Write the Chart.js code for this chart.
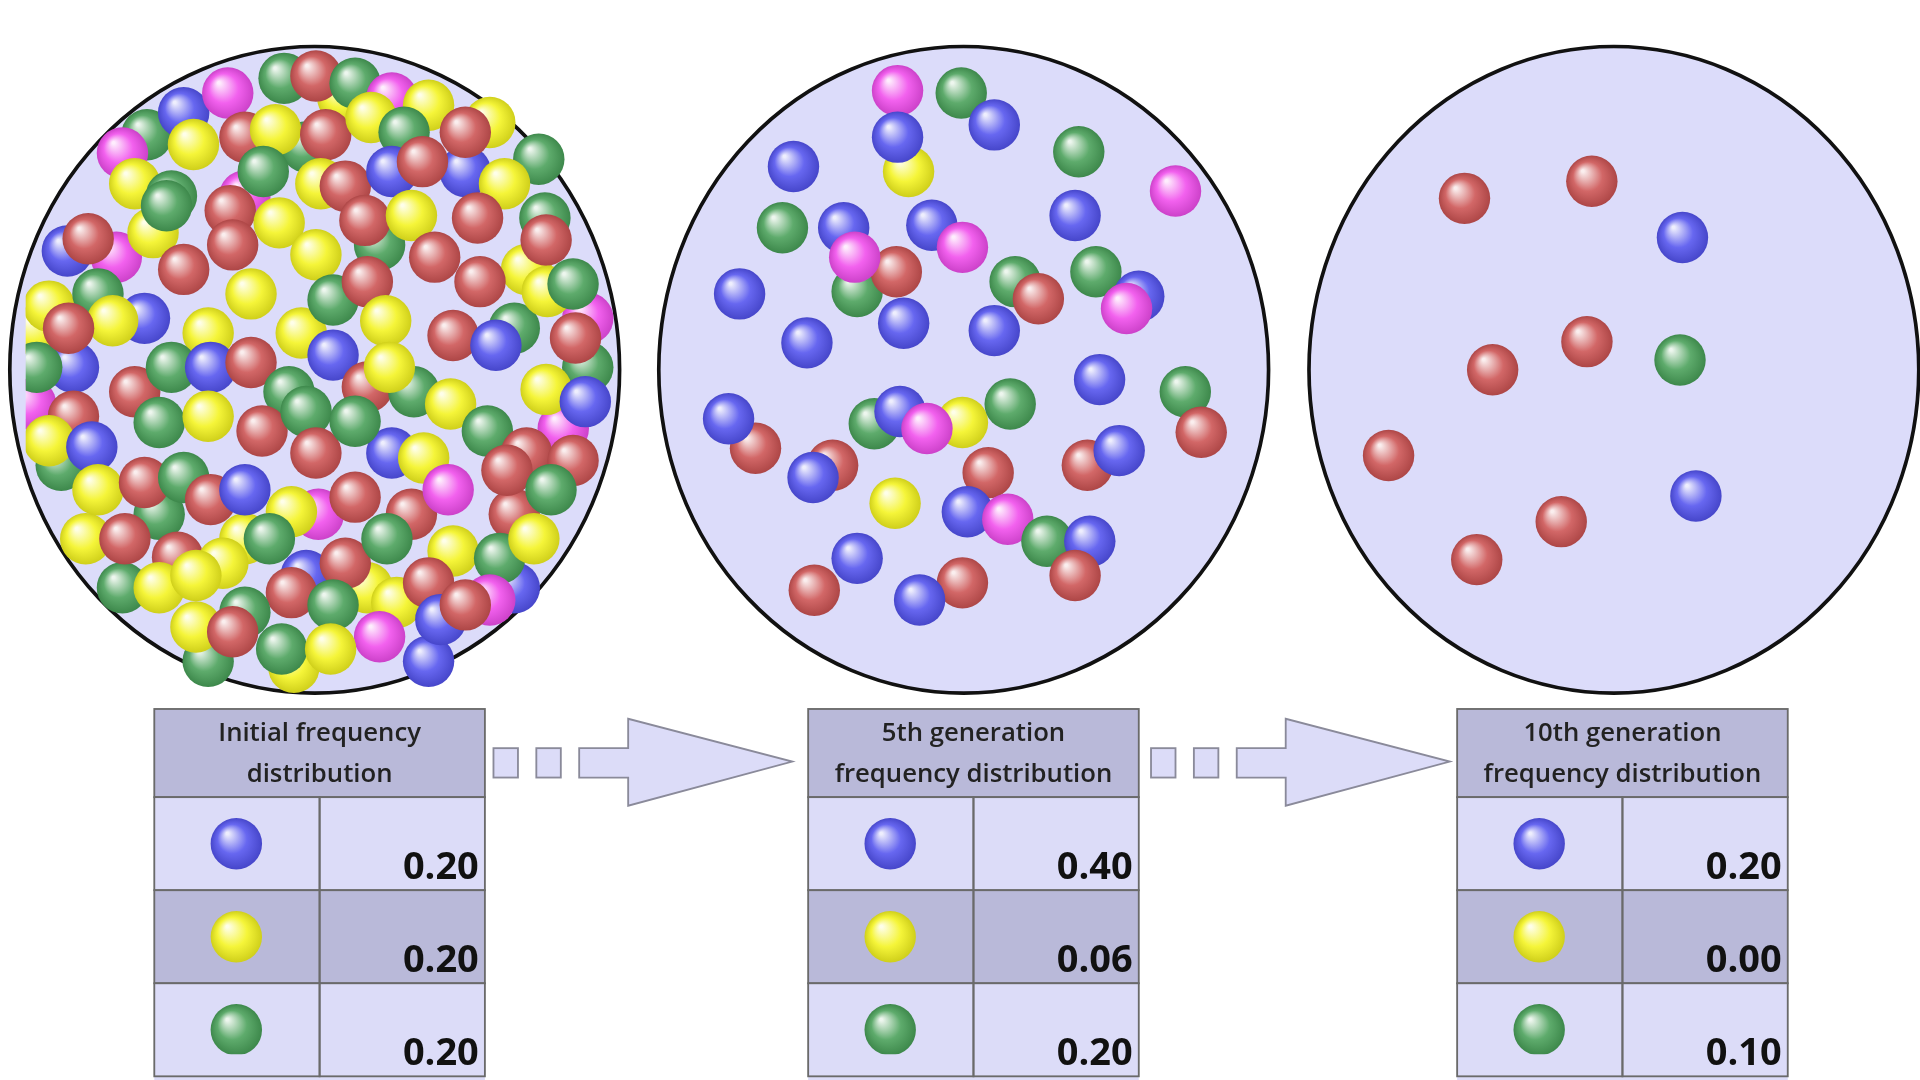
<!DOCTYPE html>
<html>
<head>
<meta charset="utf-8">
<script src="https://cdn.jsdelivr.net/npm/chart.js@4"></script>
<style>
  body { margin: 0; background: #fff; }
  #wrap { width: 1920px; height: 1080px; }
</style>
</head>
<body>
<div id="wrap"><canvas id="c"></canvas></div>
<script>
// figure units: 1568 x 882
const ballColors = { b: '#5252ee', r: '#cc5252', g: '#48a058', y: '#f4f41e', p: '#f04cec' }

const tableTitles = [
  ['Initial frequency', 'distribution'],
  ['5th generation', 'frequency distribution'],
  ['10th generation', 'frequency distribution']
]
const rowColors = ['b', 'y', 'g']
const initialFreq = [0.20, 0.20, 0.20]
const gen5Freq = [0.40, 0.06, 0.20]
const gen10Freq = [0.20, 0.00, 0.10]
const tableLeft = [126, 660, 1190]

// balls in the initial population (estimated)
const pool1 = [
  [120,110,'g'],[280,80,'y'],[400,100,'y'],[440,130,'g'],[95,210,'p'],[30,270,'y'],[25,330,'p'],[60,300,'b'],
  [200,160,'p'],[250,120,'g'],[310,200,'g'],[380,140,'b'],[430,220,'y'],[480,300,'g'],[460,350,'p'],[420,420,'r'],
  [320,370,'b'],[260,420,'p'],[200,440,'y'],[130,420,'g'],[70,440,'y'],[100,480,'g'],[250,470,'b'],[300,480,'y'],
  [420,480,'b'],[170,540,'g'],[350,540,'b'],[240,545,'y'],[50,380,'g'],[480,260,'p'],
  [150,92,'b'],[186,76,'p'],[232,64,'g'],[258,62,'r'],[290,68,'g'],[320,80,'p'],[350,86,'y'],
  [100,125,'p'],[158,118,'y'],[200,112,'r'],[225,106,'y'],[266,110,'r'],[303,96,'y'],[330,108,'g'],[380,108,'r'],
  [110,150,'y'],[140,160,'g'],[188,172,'r'],[215,140,'g'],[262,150,'y'],[282,152,'r'],[320,140,'b'],[345,132,'r'],[412,150,'y'],
  [55,205,'b'],[72,195,'r'],[125,190,'y'],[136,168,'g'],[190,200,'r'],[228,182,'y'],[258,208,'y'],[298,180,'r'],[336,176,'y'],[390,178,'r'],[445,178,'g'],[446,196,'r'],
  [40,250,'y'],[80,240,'g'],[118,260,'b'],[92,262,'y'],[150,220,'r'],[170,272,'y'],[205,240,'y'],[246,272,'y'],[272,245,'g'],[300,230,'r'],[315,262,'y'],[355,210,'r'],[392,230,'r'],[420,268,'g'],[447,238,'y'],[468,232,'g'],
  [30,300,'g'],[56,268,'r'],[110,320,'r'],[60,340,'r'],[140,300,'g'],[172,300,'b'],[205,296,'r'],[236,320,'g'],[272,290,'b'],[300,316,'r'],[338,320,'g'],[370,274,'r'],[405,282,'b'],[446,318,'y'],[470,276,'r'],[478,328,'b'],
  [40,360,'y'],[75,365,'b'],[130,345,'g'],[170,340,'y'],[214,352,'r'],[250,336,'g'],[258,370,'r'],[290,344,'g'],[318,300,'y'],[368,330,'y'],[346,374,'y'],[398,352,'g'],[430,370,'r'],[468,376,'r'],
  [80,400,'y'],[118,394,'r'],[150,390,'g'],[172,408,'r'],[200,400,'b'],[238,418,'y'],[290,406,'r'],[336,420,'r'],[366,400,'p'],[414,384,'r'],[450,400,'g'],
  [102,440,'r'],[145,455,'r'],[182,460,'y'],[220,440,'g'],[238,484,'r'],[282,460,'r'],[316,440,'g'],[370,450,'y'],[408,456,'g'],[436,440,'y'],
  [130,480,'y'],[160,470,'y'],[200,500,'g'],[272,494,'g'],[324,492,'y'],[350,476,'r'],[400,490,'p'],
  [160,512,'y'],[190,516,'r'],[230,530,'g'],[310,520,'p'],[360,506,'b'],[380,494,'r'],[270,530,'y']
]

// 5th generation population
const pool2 = [
  [733,74,'p'],[785,76,'g'],[812,102,'b'],[742,140,'y'],[733,112,'b'],[881,124,'g'],[960,156,'p'],[648,136,'b'],
  [639,186,'g'],[689,186,'b'],[761,184,'b'],[786,202,'p'],[878,176,'b'],[604,240,'b'],[700,238,'g'],[732,222,'r'],
  [698,210,'p'],[829,230,'g'],[848,244,'r'],[895,222,'g'],[930,242,'b'],[920,252,'p'],[738,264,'b'],[812,270,'b'],
  [659,280,'b'],[898,310,'b'],[968,320,'g'],[981,353,'r'],[617,366,'r'],[595,342,'b'],[714,346,'g'],[735,336,'b'],
  [786,345,'y'],[757,350,'p'],[825,330,'g'],[680,380,'r'],[664,390,'b'],[807,386,'r'],[888,380,'r'],[914,368,'b'],
  [731,411,'y'],[790,418,'b'],[823,424,'p'],[855,442,'g'],[890,442,'b'],[878,470,'r'],[700,456,'b'],[665,482,'r'],
  [786,476,'r'],[751,490,'b']
]

// 10th generation population
const pool3 = [
  [1196,162,'r'],[1300,148,'r'],[1374,194,'b'],[1219,302,'r'],[1296,279,'r'],[1372,294,'g'],
  [1134,372,'r'],[1275,426,'r'],[1385,405,'b'],[1206,457,'r']
]

const circles = [[257,302],[787,302],[1318,302]]
const rowTop = [651, 727, 803]
const freqs = [initialFreq, gen5Freq, gen10Freq]

function shade(hex, f) {
  const n = parseInt(hex.slice(1), 16)
  let r = n >> 16, g = (n >> 8) & 255, b = n & 255
  const m = v => Math.round(f > 0 ? v + (255 - v) * f : v * (1 + f))
  return `rgb(${m(r)},${m(g)},${m(b)})`
}

function toPoints(list, r) {
  return list.map(p => ({ x: p[0], y: p[1], r: r, c: p[2] }))
}

const iconPoints = []
tableLeft.forEach(left => {
  rowColors.forEach((c, i) => iconPoints.push({ x: left + 67, y: rowTop[i] + 38, c: c }))
})

function unitPx(chart) {
  const sx = chart.scales.x
  return sx.getPixelForValue(1) - sx.getPixelForValue(0)
}

function ballFill(context) {
  const chart = context.chart
  const raw = context.raw
  if (!raw || !chart.chartArea) return '#888'
  const sx = chart.scales.x, sy = chart.scales.y
  const px = sx.getPixelForValue(raw.x), py = sy.getPixelForValue(raw.y)
  const r = 21 * unitPx(chart)
  const base = ballColors[raw.c]
  const g = chart.ctx.createRadialGradient(px - r * 0.35, py - r * 0.4, r * 0.05, px, py, r)
  g.addColorStop(0, shade(base, 0.9))
  g.addColorStop(0.55, shade(base, 0.12))
  g.addColorStop(1, shade(base, -0.15))
  return g
}

const backdrop = {
  id: 'backdrop',
  beforeDatasetsDraw(chart) {
    const ctx = chart.ctx
    const sx = chart.scales.x, sy = chart.scales.y
    const X = v => sx.getPixelForValue(v), Y = v => sy.getPixelForValue(v)
    const k = unitPx(chart)
    ctx.save()

    // population circles
    circles.forEach(c => {
      ctx.beginPath()
      ctx.ellipse(X(c[0]), Y(c[1]), 249 * k, 264 * k, 0, 0, Math.PI * 2)
      ctx.fillStyle = '#dcdcfa'
      ctx.fill()
      ctx.lineWidth = 3 * k
      ctx.strokeStyle = '#111'
      ctx.stroke()
    })

    // tables
    tableLeft.forEach((left, t) => {
      ctx.strokeStyle = '#6a6a6a'
      ctx.lineWidth = 1.5 * k
      ctx.fillStyle = '#b9b9d9'
      ctx.fillRect(X(left), Y(579), 270 * k, 72 * k)
      ctx.strokeRect(X(left), Y(579), 270 * k, 72 * k)
      rowTop.forEach((top, i) => {
        ctx.fillStyle = i === 1 ? '#b9b9d9' : '#dcdcf8'
        ctx.fillRect(X(left), Y(top), 270 * k, 80 * k)
        ctx.strokeRect(X(left), Y(top), 135 * k, 76 * k)
        ctx.strokeRect(X(left + 135), Y(top), 135 * k, 76 * k)
        ctx.fillStyle = '#111'
        ctx.font = `bold ${31 * k}px "Open Sans", sans-serif`
        ctx.textAlign = 'right'
        ctx.textBaseline = 'alphabetic'
        ctx.fillText(freqs[t][i].toFixed(2), X(left + 265), Y(top + 67))
      })
      ctx.fillStyle = '#222'
      ctx.font = `600 ${21 * k}px "Open Sans", sans-serif`
      ctx.textAlign = 'center'
      ctx.textBaseline = 'middle'
      ctx.fillText(tableTitles[t][0], X(left + 135), Y(599))
      ctx.fillText(tableTitles[t][1], X(left + 135), Y(633))
    })

    // dashed arrows between tables
    ;[403, 940].forEach(ax => {
      ctx.fillStyle = '#dcdcf8'
      ctx.strokeStyle = '#8a8a9a'
      ctx.lineWidth = 1.5 * k
      ;[0, 35].forEach(dx => {
        ctx.fillRect(X(ax + dx), Y(611), 20 * k, 24 * k)
        ctx.strokeRect(X(ax + dx), Y(611), 20 * k, 24 * k)
      })
      const s = ax + 70
      ctx.beginPath()
      ctx.moveTo(X(s), Y(611))
      ctx.lineTo(X(s + 40), Y(611))
      ctx.lineTo(X(s + 40), Y(587))
      ctx.lineTo(X(s + 174), Y(622))
      ctx.lineTo(X(s + 40), Y(658))
      ctx.lineTo(X(s + 40), Y(635))
      ctx.lineTo(X(s), Y(635))
      ctx.closePath()
      ctx.fill()
      ctx.stroke()
    })
    ctx.restore()
  }
}

const ctx = document.getElementById('c').getContext('2d')
const radius = 21 * 1920 / 1568
const chart = new Chart(ctx, {
  type: 'bubble',
  data: {
    datasets: [
      { data: toPoints(pool1, radius) },
      { data: toPoints(pool2, radius) },
      { data: toPoints(pool3, radius) },
      { data: iconPoints.map(p => ({ ...p, r: radius })) }
    ]
  },
  options: {
    responsive: true,
    maintainAspectRatio: false,
    animation: false,
    events: [],
    layout: { padding: 0 },
    elements: { point: { backgroundColor: ballFill, borderWidth: 0 } },
    plugins: { legend: { display: false }, tooltip: { enabled: false } },
    scales: {
      x: { display: false, min: 0, max: 1568 },
      y: { display: false, min: 0, max: 882, reverse: true },
    }
  },
  plugins: [backdrop]
})

// bubble charts pad the plot area by the bubble radius; widen the visible range to the full page
const area = chart.chartArea
const fx = chart.width / 1568, fy = chart.height / 882
chart.options.scales.x.min = area.left / fx
chart.options.scales.x.max = area.right / fx
chart.options.scales.y.min = area.top / fy
chart.options.scales.y.max = area.bottom / fy
chart.update()
</script>
</body>
</html>
